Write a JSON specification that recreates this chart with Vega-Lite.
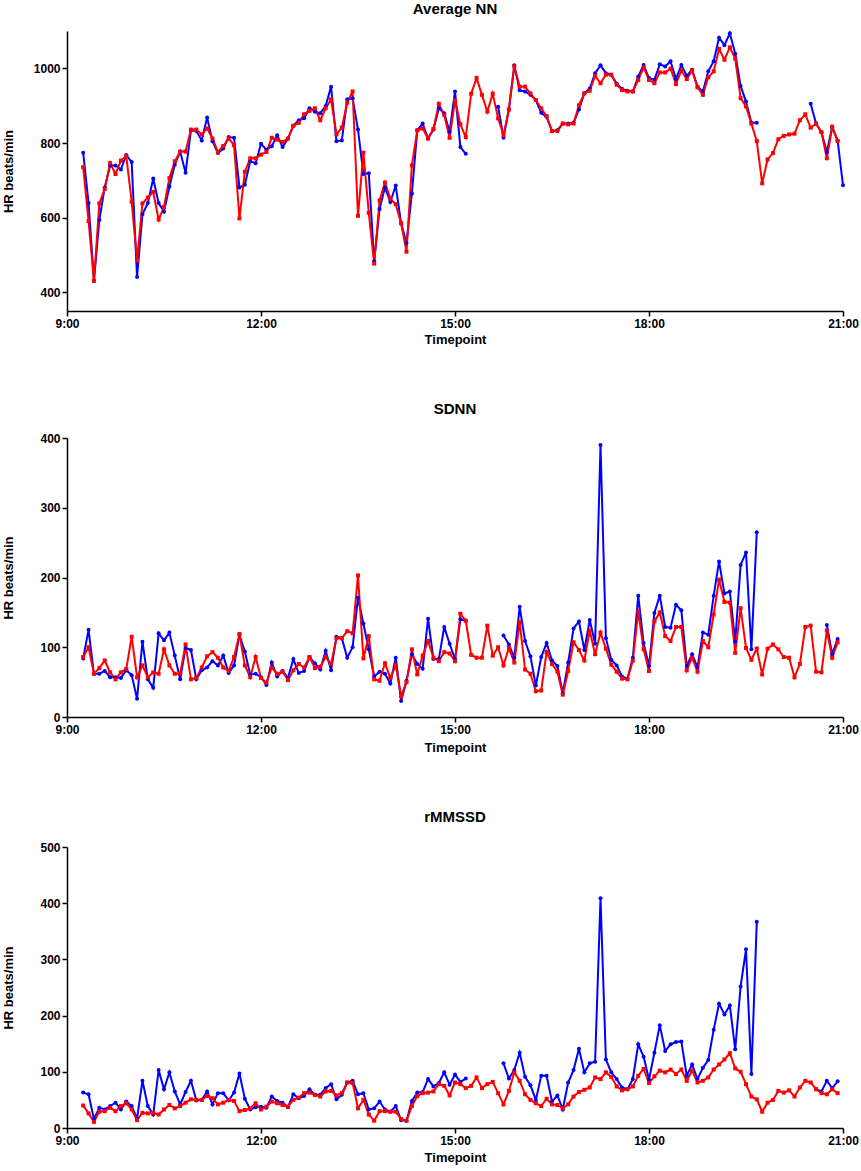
{
  "$schema": "https://vega.github.io/schema/vega-lite/v6.json",
  "padding": {"left": 2, "top": 2, "right": 1, "bottom": 1},
  "data": {
    "format": {"parse": {"t": "date:'%H:%M'"}},
    "values": [
      {"t": "9:15", "nr": 735, "nb": 774, "sr": 86, "sb": 84, "rr": 40, "rb": 63},
      {"t": "9:20", "nr": 591, "nb": 639, "sr": 100, "sb": 125, "rr": 26, "rb": 60},
      {"t": "9:25", "nr": 431, "nb": 431, "sr": 62, "sb": 62, "rr": 11, "rb": 16},
      {"t": "9:30", "nr": 638, "nb": 594, "sr": 70, "sb": 62, "rr": 29, "rb": 36},
      {"t": "9:35", "nr": 677, "nb": 681, "sr": 81, "sb": 66, "rr": 30, "rb": 33},
      {"t": "9:40", "nr": 746, "nb": 740, "sr": 64, "sb": 57, "rr": 36, "rb": 39},
      {"t": "9:45", "nr": 717, "nb": 740, "sr": 54, "sb": 57, "rr": 30, "rb": 45},
      {"t": "9:50", "nr": 753, "nb": 729, "sr": 64, "sb": 56, "rr": 39, "rb": 33},
      {"t": "9:55", "nr": 765, "nb": 768, "sr": 69, "sb": 67, "rr": 44, "rb": 47},
      {"t": "10:00", "nr": 643, "nb": 749, "sr": 115, "sb": 60, "rr": 33, "rb": 39},
      {"t": "10:05", "nr": 486, "nb": 441, "sr": 57, "sb": 26, "rr": 14, "rb": 17},
      {"t": "10:10", "nr": 638, "nb": 609, "sr": 74, "sb": 108, "rr": 27, "rb": 84},
      {"t": "10:15", "nr": 654, "nb": 639, "sr": 57, "sb": 54, "rr": 26, "rb": 39},
      {"t": "10:20", "nr": 669, "nb": 705, "sr": 64, "sb": 42, "rr": 27, "rb": 24},
      {"t": "10:25", "nr": 595, "nb": 639, "sr": 62, "sb": 120, "rr": 24, "rb": 103},
      {"t": "10:30", "nr": 629, "nb": 616, "sr": 97, "sb": 110, "rr": 33, "rb": 69},
      {"t": "10:35", "nr": 706, "nb": 683, "sr": 74, "sb": 121, "rr": 41, "rb": 99},
      {"t": "10:40", "nr": 751, "nb": 742, "sr": 62, "sb": 88, "rr": 35, "rb": 65},
      {"t": "10:45", "nr": 777, "nb": 777, "sr": 62, "sb": 54, "rr": 39, "rb": 42},
      {"t": "10:50", "nr": 777, "nb": 720, "sr": 104, "sb": 99, "rr": 45, "rb": 64},
      {"t": "10:55", "nr": 836, "nb": 834, "sr": 54, "sb": 96, "rr": 51, "rb": 84},
      {"t": "11:00", "nr": 836, "nb": 832, "sr": 56, "sb": 54, "rr": 50, "rb": 49},
      {"t": "11:05", "nr": 823, "nb": 807, "sr": 71, "sb": 67, "rr": 50, "rb": 50},
      {"t": "11:10", "nr": 839, "nb": 868, "sr": 87, "sb": 71, "rr": 57, "rb": 65},
      {"t": "11:15", "nr": 812, "nb": 805, "sr": 93, "sb": 80, "rr": 53, "rb": 42},
      {"t": "11:20", "nr": 776, "nb": 773, "sr": 85, "sb": 74, "rr": 42, "rb": 62},
      {"t": "11:25", "nr": 792, "nb": 785, "sr": 71, "sb": 88, "rr": 45, "rb": 62},
      {"t": "11:30", "nr": 812, "nb": 816, "sr": 66, "sb": 63, "rr": 50, "rb": 49},
      {"t": "11:35", "nr": 794, "nb": 814, "sr": 86, "sb": 74, "rr": 48, "rb": 63},
      {"t": "11:40", "nr": 598, "nb": 681, "sr": 119, "sb": 118, "rr": 30, "rb": 97},
      {"t": "11:45", "nr": 723, "nb": 688, "sr": 74, "sb": 94, "rr": 32, "rb": 52},
      {"t": "11:50", "nr": 759, "nb": 751, "sr": 57, "sb": 61, "rr": 35, "rb": 33},
      {"t": "11:55", "nr": 759, "nb": 746, "sr": 86, "sb": 62, "rr": 44, "rb": 37},
      {"t": "12:00", "nr": 769, "nb": 798, "sr": 56, "sb": 57, "rr": 33, "rb": 38},
      {"t": "12:05", "nr": 776, "nb": 782, "sr": 49, "sb": 46, "rr": 38, "rb": 36},
      {"t": "12:10", "nr": 814, "nb": 791, "sr": 71, "sb": 78, "rr": 47, "rb": 56},
      {"t": "12:15", "nr": 809, "nb": 821, "sr": 62, "sb": 58, "rr": 44, "rb": 48},
      {"t": "12:20", "nr": 803, "nb": 789, "sr": 65, "sb": 66, "rr": 41, "rb": 45},
      {"t": "12:25", "nr": 812, "nb": 812, "sr": 53, "sb": 56, "rr": 38, "rb": 37},
      {"t": "12:30", "nr": 846, "nb": 846, "sr": 67, "sb": 83, "rr": 50, "rb": 60},
      {"t": "12:35", "nr": 854, "nb": 861, "sr": 76, "sb": 63, "rr": 54, "rb": 53},
      {"t": "12:40", "nr": 877, "nb": 866, "sr": 71, "sb": 66, "rr": 62, "rb": 57},
      {"t": "12:45", "nr": 886, "nb": 893, "sr": 86, "sb": 86, "rr": 63, "rb": 69},
      {"t": "12:50", "nr": 893, "nb": 884, "sr": 70, "sb": 77, "rr": 59, "rb": 59},
      {"t": "12:55", "nr": 861, "nb": 880, "sr": 72, "sb": 68, "rr": 56, "rb": 59},
      {"t": "13:00", "nr": 893, "nb": 899, "sr": 86, "sb": 95, "rr": 65, "rb": 71},
      {"t": "13:05", "nr": 917, "nb": 951, "sr": 76, "sb": 67, "rr": 66, "rb": 78},
      {"t": "13:10", "nr": 823, "nb": 805, "sr": 113, "sb": 115, "rr": 58, "rb": 51},
      {"t": "13:15", "nr": 841, "nb": 807, "sr": 113, "sb": 113, "rr": 62, "rb": 59},
      {"t": "13:20", "nr": 908, "nb": 917, "sr": 123, "sb": 85, "rr": 81, "rb": 81},
      {"t": "13:25", "nr": 938, "nb": 920, "sr": 120, "sb": 100, "rr": 80, "rb": 84},
      {"t": "13:30", "nr": 605, "nb": 836, "sr": 203, "sb": 171, "rr": 35, "rb": 60},
      {"t": "13:35", "nr": 774, "nb": 717, "sr": 84, "sb": 134, "rr": 50, "rb": 62},
      {"t": "13:40", "nr": 613, "nb": 719, "sr": 116, "sb": 97, "rr": 24, "rb": 33},
      {"t": "13:45", "nr": 477, "nb": 483, "sr": 54, "sb": 58, "rr": 13, "rb": 35},
      {"t": "13:50", "nr": 646, "nb": 623, "sr": 52, "sb": 65, "rr": 30, "rb": 47},
      {"t": "13:55", "nr": 694, "nb": 681, "sr": 77, "sb": 62, "rr": 30, "rb": 33},
      {"t": "14:00", "nr": 651, "nb": 642, "sr": 56, "sb": 48, "rr": 29, "rb": 29},
      {"t": "14:05", "nr": 636, "nb": 686, "sr": 74, "sb": 85, "rr": 29, "rb": 39},
      {"t": "14:10", "nr": 585, "nb": 585, "sr": 30, "sb": 23, "rr": 16, "rb": 14},
      {"t": "14:15", "nr": 509, "nb": 532, "sr": 50, "sb": 52, "rr": 13, "rb": 13},
      {"t": "14:20", "nr": 740, "nb": 665, "sr": 97, "sb": 90, "rr": 39, "rb": 48},
      {"t": "14:25", "nr": 834, "nb": 834, "sr": 61, "sb": 76, "rr": 57, "rb": 63},
      {"t": "14:30", "nr": 839, "nb": 852, "sr": 88, "sb": 69, "rr": 62, "rb": 64},
      {"t": "14:35", "nr": 812, "nb": 812, "sr": 109, "sb": 141, "rr": 63, "rb": 87},
      {"t": "14:40", "nr": 838, "nb": 836, "sr": 85, "sb": 83, "rr": 65, "rb": 74},
      {"t": "14:45", "nr": 905, "nb": 893, "sr": 80, "sb": 83, "rr": 78, "rb": 80},
      {"t": "14:50", "nr": 875, "nb": 880, "sr": 93, "sb": 129, "rr": 75, "rb": 99},
      {"t": "14:55", "nr": 814, "nb": 830, "sr": 91, "sb": 105, "rr": 58, "rb": 77},
      {"t": "15:00", "nr": 914, "nb": 938, "sr": 80, "sb": 83, "rr": 81, "rb": 95},
      {"t": "15:05", "nr": 850, "nb": 789, "sr": 148, "sb": 140, "rr": 78, "rb": 82},
      {"t": "15:10", "nr": 816, "nb": 771, "sr": 138, "sb": 138, "rr": 71, "rb": 88},
      {"t": "15:15", "nr": 932, "nb": null, "sr": 89, "sb": null, "rr": 75, "rb": null},
      {"t": "15:20", "nr": 974, "nb": null, "sr": 85, "sb": null, "rr": 90, "rb": null},
      {"t": "15:25", "nr": 929, "nb": null, "sr": 85, "sb": null, "rr": 71, "rb": null},
      {"t": "15:30", "nr": 884, "nb": null, "sr": 131, "sb": null, "rr": 78, "rb": null},
      {"t": "15:35", "nr": 932, "nb": null, "sr": 88, "sb": null, "rr": 82, "rb": null},
      {"t": "15:40", "nr": 866, "nb": 897, "sr": 100, "sb": null, "rr": 62, "rb": null},
      {"t": "15:45", "nr": 821, "nb": 814, "sr": 74, "sb": 117, "rr": 42, "rb": 115},
      {"t": "15:50", "nr": 890, "nb": 890, "sr": 99, "sb": 104, "rr": 66, "rb": 88},
      {"t": "15:55", "nr": 1005, "nb": 1008, "sr": 78, "sb": 85, "rr": 99, "rb": 103},
      {"t": "16:00", "nr": 951, "nb": 941, "sr": 136, "sb": 158, "rr": 84, "rb": 134},
      {"t": "16:05", "nr": 951, "nb": 938, "sr": 68, "sb": 109, "rr": 60, "rb": 91},
      {"t": "16:10", "nr": 933, "nb": 929, "sr": 62, "sb": 87, "rr": 50, "rb": 76},
      {"t": "16:15", "nr": 915, "nb": 915, "sr": 37, "sb": 45, "rr": 44, "rb": 50},
      {"t": "16:20", "nr": 893, "nb": 881, "sr": 38, "sb": 86, "rr": 39, "rb": 93},
      {"t": "16:25", "nr": 872, "nb": 870, "sr": 93, "sb": 106, "rr": 52, "rb": 93},
      {"t": "16:30", "nr": 832, "nb": 832, "sr": 76, "sb": 81, "rr": 42, "rb": 47},
      {"t": "16:35", "nr": 832, "nb": 834, "sr": 65, "sb": 73, "rr": 41, "rb": 58},
      {"t": "16:40", "nr": 852, "nb": 852, "sr": 32, "sb": 34, "rr": 35, "rb": 33},
      {"t": "16:45", "nr": 850, "nb": 852, "sr": 66, "sb": 78, "rr": 42, "rb": 81},
      {"t": "16:50", "nr": 852, "nb": 854, "sr": 107, "sb": 127, "rr": 56, "rb": 103},
      {"t": "16:55", "nr": 901, "nb": 890, "sr": 96, "sb": 137, "rr": 64, "rb": 141},
      {"t": "17:00", "nr": 933, "nb": 933, "sr": 81, "sb": 96, "rr": 68, "rb": 99},
      {"t": "17:05", "nr": 940, "nb": 946, "sr": 124, "sb": 139, "rr": 72, "rb": 115},
      {"t": "17:10", "nr": 980, "nb": 987, "sr": 90, "sb": 105, "rr": 90, "rb": 118},
      {"t": "17:15", "nr": 960, "nb": 1008, "sr": 121, "sb": 390, "rr": 87, "rb": 409},
      {"t": "17:20", "nr": 983, "nb": 987, "sr": 98, "sb": 113, "rr": 99, "rb": 122},
      {"t": "17:25", "nr": 983, "nb": 983, "sr": 75, "sb": 82, "rr": 91, "rb": 99},
      {"t": "17:30", "nr": 956, "nb": 959, "sr": 65, "sb": 74, "rr": 74, "rb": 87},
      {"t": "17:35", "nr": 942, "nb": 945, "sr": 55, "sb": 58, "rr": 67, "rb": 72},
      {"t": "17:40", "nr": 938, "nb": 940, "sr": 54, "sb": 55, "rr": 69, "rb": 69},
      {"t": "17:45", "nr": 938, "nb": 938, "sr": 81, "sb": 85, "rr": 74, "rb": 87},
      {"t": "17:50", "nr": 969, "nb": 978, "sr": 151, "sb": 174, "rr": 93, "rb": 149},
      {"t": "17:55", "nr": 1002, "nb": 1009, "sr": 97, "sb": 106, "rr": 105, "rb": 127},
      {"t": "18:00", "nr": 969, "nb": 974, "sr": 66, "sb": 73, "rr": 80, "rb": 86},
      {"t": "18:05", "nr": 960, "nb": 969, "sr": 137, "sb": 149, "rr": 92, "rb": 134},
      {"t": "18:10", "nr": 989, "nb": 1011, "sr": 150, "sb": 174, "rr": 102, "rb": 183},
      {"t": "18:15", "nr": 989, "nb": 1005, "sr": 116, "sb": 129, "rr": 99, "rb": 137},
      {"t": "18:20", "nr": 999, "nb": 1019, "sr": 109, "sb": 128, "rr": 104, "rb": 149},
      {"t": "18:25", "nr": 958, "nb": 971, "sr": 129, "sb": 161, "rr": 96, "rb": 153},
      {"t": "18:30", "nr": 994, "nb": 1009, "sr": 129, "sb": 153, "rr": 104, "rb": 154},
      {"t": "18:35", "nr": 971, "nb": 980, "sr": 67, "sb": 73, "rr": 84, "rb": 93},
      {"t": "18:40", "nr": 994, "nb": 996, "sr": 85, "sb": 90, "rr": 102, "rb": 113},
      {"t": "18:45", "nr": 949, "nb": 951, "sr": 65, "sb": 71, "rr": 81, "rb": 87},
      {"t": "18:50", "nr": 929, "nb": 938, "sr": 109, "sb": 121, "rr": 84, "rb": 107},
      {"t": "18:55", "nr": 976, "nb": 992, "sr": 100, "sb": 118, "rr": 90, "rb": 121},
      {"t": "19:00", "nr": 992, "nb": 1019, "sr": 147, "sb": 174, "rr": 104, "rb": 175},
      {"t": "19:05", "nr": 1052, "nb": 1082, "sr": 197, "sb": 223, "rr": 113, "rb": 221},
      {"t": "19:10", "nr": 1023, "nb": 1062, "sr": 165, "sb": 177, "rr": 122, "rb": 202},
      {"t": "19:15", "nr": 1056, "nb": 1094, "sr": 164, "sb": 180, "rr": 133, "rb": 218},
      {"t": "19:20", "nr": 1026, "nb": 1039, "sr": 92, "sb": 108, "rr": 106, "rb": 140},
      {"t": "19:25", "nr": 920, "nb": 953, "sr": 156, "sb": 218, "rr": 100, "rb": 252},
      {"t": "19:30", "nr": 898, "nb": 911, "sr": 99, "sb": 236, "rr": 78, "rb": 318},
      {"t": "19:35", "nr": 852, "nb": 854, "sr": 82, "sb": 97, "rr": 56, "rb": 96},
      {"t": "19:40", "nr": 805, "nb": 854, "sr": 98, "sb": 265, "rr": 51, "rb": 367},
      {"t": "19:45", "nr": 692, "nb": null, "sr": 61, "sb": null, "rr": 29, "rb": null},
      {"t": "19:50", "nr": 756, "nb": null, "sr": 98, "sb": null, "rr": 45, "rb": null},
      {"t": "19:55", "nr": 773, "nb": null, "sr": 104, "sb": null, "rr": 50, "rb": null},
      {"t": "20:00", "nr": 810, "nb": null, "sr": 97, "sb": null, "rr": 66, "rb": null},
      {"t": "20:05", "nr": 819, "nb": null, "sr": 86, "sb": null, "rr": 63, "rb": null},
      {"t": "20:10", "nr": 823, "nb": null, "sr": 85, "sb": null, "rr": 67, "rb": null},
      {"t": "20:15", "nr": 825, "nb": null, "sr": 57, "sb": null, "rr": 56, "rb": null},
      {"t": "20:20", "nr": 861, "nb": null, "sr": 76, "sb": null, "rr": 72, "rb": null},
      {"t": "20:25", "nr": 877, "nb": null, "sr": 129, "sb": null, "rr": 84, "rb": null},
      {"t": "20:30", "nr": 841, "nb": 905, "sr": 131, "sb": null, "rr": 81, "rb": null},
      {"t": "20:35", "nr": 852, "nb": 852, "sr": 65, "sb": null, "rr": 69, "rb": 69},
      {"t": "20:40", "nr": 829, "nb": 829, "sr": 64, "sb": null, "rr": 62, "rb": 65},
      {"t": "20:45", "nr": 759, "nb": 776, "sr": 124, "sb": 132, "rr": 60, "rb": 84},
      {"t": "20:50", "nr": 843, "nb": 843, "sr": 85, "sb": 90, "rr": 69, "rb": 71},
      {"t": "20:55", "nr": 805, "nb": 807, "sr": 107, "sb": 112, "rr": 62, "rb": 83},
      {"t": "21:00", "nr": null, "nb": 687, "sr": null, "sb": null, "rr": null, "rb": null}
    ]
  },
  "spacing": 56,
  "vconcat": [
    {
      "title": {"text": "Average NN", "offset": 12},
      "width": 776,
      "height": 280,
      "transform": [{"fold": ["nb", "nr"], "as": ["s", "v"]}],
      "encoding": {
        "x": {
          "field": "t",
          "type": "temporal",
          "scale": {"domain": [{"year": 1900, "month": 1, "date": 1, "hours": 9}, {"year": 1900, "month": 1, "date": 1, "hours": 21}]},
          "axis": {
            "title": "Timepoint",
            "titlePadding": 4,
            "format": "%-H:%M",
            "labelFlush": false,
            "values": [
              {"year": 1900, "month": 1, "date": 1, "hours": 9},
              {"year": 1900, "month": 1, "date": 1, "hours": 12},
              {"year": 1900, "month": 1, "date": 1, "hours": 15},
              {"year": 1900, "month": 1, "date": 1, "hours": 18},
              {"year": 1900, "month": 1, "date": 1, "hours": 21}
            ]
          }
        },
        "y": {
          "field": "v",
          "type": "quantitative",
          "scale": {"domain": [350, 1100], "nice": false, "zero": false},
          "axis": {"title": "HR beats/min", "titleX": -52, "format": "d", "values": [400, 600, 800, 1000]}
        },
        "color": {"field": "s", "type": "nominal", "scale": {"domain": ["nb", "nr"], "range": ["#0000ff", "#ff0000"]}, "legend": null}
      },
      "layer": [
        {"mark": {"type": "line", "strokeWidth": 2, "invalid": "break-paths-filter-domains"}},
        {
          "mark": {"type": "point", "filled": true, "opacity": 1, "size": 16},
          "encoding": {"shape": {"field": "s", "type": "nominal", "scale": {"domain": ["nb", "nr"], "range": ["circle", "square"]}, "legend": null}}
        }
      ]
    },
    {
      "title": {"text": "SDNN", "offset": 15},
      "width": 776,
      "height": 279,
      "transform": [{"fold": ["sb", "sr"], "as": ["s", "v"]}],
      "encoding": {
        "x": {
          "field": "t",
          "type": "temporal",
          "scale": {"domain": [{"year": 1900, "month": 1, "date": 1, "hours": 9}, {"year": 1900, "month": 1, "date": 1, "hours": 21}]},
          "axis": {
            "title": "Timepoint",
            "titlePadding": 6,
            "format": "%-H:%M",
            "labelFlush": false,
            "values": [
              {"year": 1900, "month": 1, "date": 1, "hours": 9},
              {"year": 1900, "month": 1, "date": 1, "hours": 12},
              {"year": 1900, "month": 1, "date": 1, "hours": 15},
              {"year": 1900, "month": 1, "date": 1, "hours": 18},
              {"year": 1900, "month": 1, "date": 1, "hours": 21}
            ]
          }
        },
        "y": {
          "field": "v",
          "type": "quantitative",
          "scale": {"domain": [0, 400], "nice": false},
          "axis": {"title": "HR beats/min", "titleX": -52, "format": "d", "values": [0, 100, 200, 300, 400]}
        },
        "color": {"field": "s", "type": "nominal", "scale": {"domain": ["sb", "sr"], "range": ["#0000ff", "#ff0000"]}, "legend": null}
      },
      "layer": [
        {"mark": {"type": "line", "strokeWidth": 2, "invalid": "break-paths-filter-domains"}},
        {
          "mark": {"type": "point", "filled": true, "opacity": 1, "size": 16},
          "encoding": {"shape": {"field": "s", "type": "nominal", "scale": {"domain": ["sb", "sr"], "range": ["circle", "square"]}, "legend": null}}
        }
      ]
    },
    {
      "title": {"text": "rMMSSD", "offset": 16},
      "width": 776,
      "height": 281,
      "transform": [{"fold": ["rb", "rr"], "as": ["s", "v"]}],
      "encoding": {
        "x": {
          "field": "t",
          "type": "temporal",
          "scale": {"domain": [{"year": 1900, "month": 1, "date": 1, "hours": 9}, {"year": 1900, "month": 1, "date": 1, "hours": 21}]},
          "axis": {
            "title": "Timepoint",
            "titlePadding": 5,
            "format": "%-H:%M",
            "labelFlush": false,
            "values": [
              {"year": 1900, "month": 1, "date": 1, "hours": 9},
              {"year": 1900, "month": 1, "date": 1, "hours": 12},
              {"year": 1900, "month": 1, "date": 1, "hours": 15},
              {"year": 1900, "month": 1, "date": 1, "hours": 18},
              {"year": 1900, "month": 1, "date": 1, "hours": 21}
            ]
          }
        },
        "y": {
          "field": "v",
          "type": "quantitative",
          "scale": {"domain": [0, 500], "nice": false},
          "axis": {"title": "HR beats/min", "titleX": -52, "format": "d", "values": [0, 100, 200, 300, 400, 500]}
        },
        "color": {"field": "s", "type": "nominal", "scale": {"domain": ["rb", "rr"], "range": ["#0000ff", "#ff0000"]}, "legend": null}
      },
      "layer": [
        {"mark": {"type": "line", "strokeWidth": 2, "invalid": "break-paths-filter-domains"}},
        {
          "mark": {"type": "point", "filled": true, "opacity": 1, "size": 16},
          "encoding": {"shape": {"field": "s", "type": "nominal", "scale": {"domain": ["rb", "rr"], "range": ["circle", "square"]}, "legend": null}}
        }
      ]
    }
  ],
  "config": {
    "font": "Liberation Sans",
    "view": {"stroke": null},
    "mark": {"invalid": "break-paths-filter-domains"},
    "title": {"font": "Liberation Sans", "fontSize": 15, "fontWeight": "bold", "color": "black"},
    "axis": {
      "grid": false,
      "domainColor": "black",
      "domainWidth": 1.5,
      "tickColor": "black",
      "tickWidth": 1.5,
      "tickSize": 5,
      "labelFont": "Liberation Sans",
      "labelFontSize": 12,
      "labelFontWeight": "bold",
      "labelColor": "black",
      "titleFont": "Liberation Sans",
      "titleFontSize": 13,
      "titleFontWeight": "bold",
      "titleColor": "black",
      "titlePadding": 2
    }
  }
}
